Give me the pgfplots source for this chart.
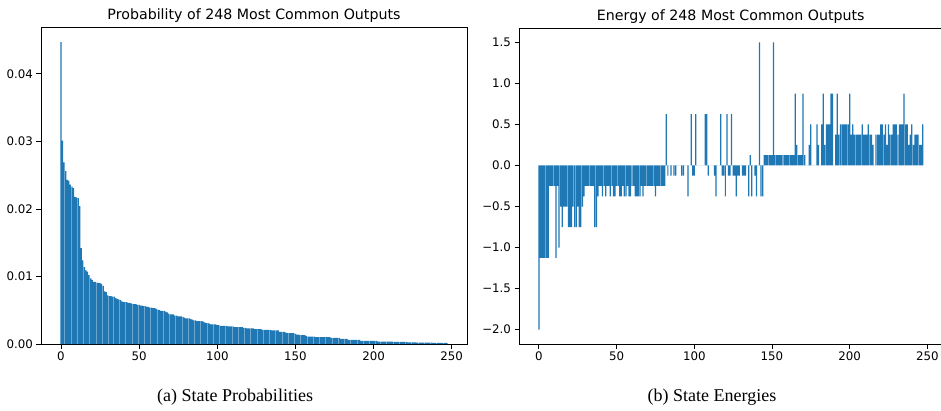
\documentclass[border=0pt]{standalone}
\usepackage{fontspec}
\setmainfont{DejaVu Sans}
\newfontfamily\capfont{Liberation Serif}
\usepackage{pgfplots}
\pgfplotsset{compat=1.18}
\definecolor{mplblue}{HTML}{1F77B4}

\pgfplotsset{
  mplbase/.style={
    scale only axis,
    axis line style={black, line width=0.8pt},
    tick align=outside, tick pos=left,
    major tick length=4.5pt,
    tick style={black, line width=0.8pt},
    xmin=-12.79, xmax=259.79,
    xtick={0,50,100,150,200,250},
    /pgf/number format/assume math mode=true,
    ticklabel style={font=\fontsize{11.8}{13}\selectfont},
    title style={font=\fontsize{14.2}{16}\selectfont, yshift=-5pt},
  },
  bars/.style={ybar, bar width=0.8, fill=mplblue, draw=none},
}

\begin{document}
\begin{tikzpicture}[x=1pt,y=1pt]
\useasboundingbox (0,0) rectangle (941,410);

% (a) probabilities
\begin{axis}[mplbase, at={(41pt,66pt)}, anchor=south west,
  width=426pt, height=317pt,
  ymin=0, ymax=0.04694,
  ytick={0,0.01,0.02,0.03,0.04}, scaled y ticks=false,
  yticklabel style={/pgf/number format/fixed, /pgf/number format/fixed zerofill, /pgf/number format/precision=2},
  title={Probability of 248 Most Common Outputs}]
\addplot[bars] coordinates {
(0,0.0447) (1,0.0301) (2,0.0269) (3,0.0256) (4,0.0243) (5,0.0242) (6,0.0236) (7,0.0233) (8,0.0231) (9,0.0218)
(10,0.0217) (11,0.0216) (12,0.0204) (13,0.0142) (14,0.0124) (15,0.0114) (16,0.0109) (17,0.0107) (18,0.0102) (19,0.0097)
(20,0.0095) (21,0.0092) (22,0.0092) (23,0.0091) (24,0.0090) (25,0.0090) (26,0.0089) (27,0.0086) (28,0.0078) (29,0.0077)
(30,0.0072) (31,0.0071) (32,0.0071) (33,0.0070) (34,0.0070) (35,0.0068) (36,0.0067) (37,0.0066) (38,0.0065) (39,0.0063)
(40,0.0062) (41,0.0062) (42,0.0062) (43,0.0061) (44,0.0061) (45,0.0060) (46,0.0059) (47,0.0059) (48,0.0059) (49,0.0058)
(50,0.0058) (51,0.0057) (52,0.0057) (53,0.0056) (54,0.0056) (55,0.0055) (56,0.0055) (57,0.0054) (58,0.0054) (59,0.0053)
(60,0.0053) (61,0.0052) (62,0.0051) (63,0.0050) (64,0.0049) (65,0.0049) (66,0.0049) (67,0.0048) (68,0.0047) (69,0.0045)
(70,0.0044) (71,0.0044) (72,0.0044) (73,0.0042) (74,0.0042) (75,0.0041) (76,0.0041) (77,0.0041) (78,0.0040) (79,0.0039)
(80,0.0038) (81,0.0038) (82,0.0038) (83,0.0037) (84,0.0036) (85,0.0035) (86,0.0035) (87,0.0034) (88,0.0034) (89,0.0034)
(90,0.0034) (91,0.0033) (92,0.0032) (93,0.0031) (94,0.0031) (95,0.0030) (96,0.0029) (97,0.0029) (98,0.0029) (99,0.0029)
(100,0.0028) (101,0.0028) (102,0.0027) (103,0.0027) (104,0.0027) (105,0.0027) (106,0.0027) (107,0.0026) (108,0.0026) (109,0.0026)
(110,0.0026) (111,0.0025) (112,0.0025) (113,0.0025) (114,0.0025) (115,0.0025) (116,0.0025) (117,0.0024) (118,0.0024) (119,0.0023)
(120,0.0023) (121,0.0023) (122,0.0023) (123,0.0023) (124,0.0022) (125,0.0022) (126,0.0022) (127,0.0022) (128,0.0022) (129,0.0021)
(130,0.0021) (131,0.0021) (132,0.0021) (133,0.0021) (134,0.0021) (135,0.0020) (136,0.0020) (137,0.0020) (138,0.0020) (139,0.0020)
(140,0.0018) (141,0.0018) (142,0.0018) (143,0.0018) (144,0.0017) (145,0.0016) (146,0.0016) (147,0.0016) (148,0.0016) (149,0.0016)
(150,0.0015) (151,0.0014) (152,0.0014) (153,0.0013) (154,0.0013) (155,0.0013) (156,0.0013) (157,0.0012) (158,0.0011) (159,0.0011)
(160,0.0011) (161,0.0011) (162,0.0011) (163,0.0010) (164,0.0010) (165,0.0010) (166,0.0010) (167,0.0010) (168,0.0010) (169,0.0010)
(170,0.0010) (171,0.0010) (172,0.0010) (173,0.0009) (174,0.0009) (175,0.0009) (176,0.0009) (177,0.0009) (178,0.0009) (179,0.00075)
(180,0.00075) (181,0.00075) (182,0.00075) (183,0.00075) (184,0.0006) (185,0.0006) (186,0.0006) (187,0.0006) (188,0.0006) (189,0.0006)
(190,0.0006) (191,0.0006) (192,0.00045) (193,0.00045) (194,0.00045) (195,0.00045) (196,0.00045) (197,0.00045) (198,0.00045) (199,0.00045)
(200,0.00045) (201,0.00045) (202,0.00045) (203,0.00035) (204,0.00035) (205,0.00035) (206,0.00035) (207,0.00035) (208,0.00035) (209,0.00035)
(210,0.00035) (211,0.00035) (212,0.00035) (213,0.0003) (214,0.0003) (215,0.0003) (216,0.0003) (217,0.0003) (218,0.0003) (219,0.0003)
(220,0.0003) (221,0.0003) (222,0.00025) (223,0.00025) (224,0.00025) (225,0.00025) (226,0.00025) (227,0.00025) (228,0.0002) (229,0.0002)
(230,0.0002) (231,0.0002) (232,0.0002) (233,0.0002) (234,0.0002) (235,0.0002) (236,0.0002) (237,0.0002) (238,0.00015) (239,0.00015)
(240,0.00015) (241,0.00015) (242,0.00015) (243,0.00015) (244,0.00015) (245,0.00015) (246,0.00015) (247,0.00015)
};
\end{axis}

% (b) energies
\begin{axis}[mplbase, at={(519pt,66pt)}, anchor=south west,
  width=423.6pt, height=316pt,
  ymin=-2.175, ymax=1.675,
  ytick={-2,-1.5,-1,-0.5,0,0.5,1,1.5},
  yticklabels={−2.0,−1.5,−1.0,−0.5,0.0,0.5,1.0,1.5},
  title={Energy of 248 Most Common Outputs}]
\addplot[bars] coordinates {
(0,-2) (1,-1.125) (2,-1.125) (3,-1.125) (4,-1.125) (5,-1.125) (6,-1.125) (7,-0.25) (8,-0.25) (9,-0.25)
(10,-0.25) (11,-1.125) (12,-0.25) (13,-1.0) (14,-0.5) (15,-0.75) (16,-0.5) (17,-0.5) (18,-0.5) (19,-0.75)
(20,-0.75) (21,-0.75) (22,-0.5) (23,-0.75) (24,-0.75) (25,-0.5) (26,-0.75) (27,-0.75) (28,-0.5) (29,-0.375)
(30,-0.25) (31,-0.25) (32,-0.25) (33,-0.25) (34,-0.25) (35,-0.25) (36,-0.75) (37,-0.75) (38,-0.375) (39,-0.25)
(40,-0.25) (41,-0.375) (42,-0.25) (43,-0.375) (44,-0.25) (45,-0.25) (46,-0.375) (47,-0.25) (48,-0.375) (49,-0.375)
(50,-0.25) (51,-0.25) (52,-0.375) (53,-0.375) (54,-0.25) (55,-0.375) (56,-0.375) (57,-0.25) (58,-0.375) (59,-0.375)
(60,-0.25) (61,-0.25) (62,-0.375) (63,-0.375) (64,-0.375) (65,-0.375) (66,-0.25) (67,-0.375) (68,-0.25) (69,-0.25)
(70,-0.25) (71,-0.25) (72,-0.25) (73,-0.25) (74,-0.25) (75,-0.375) (76,-0.25) (77,-0.25) (78,-0.25) (79,-0.25)
(80,-0.25) (81,-0.25) (82,0.625) (83,-0.125) (84,0) (85,-0.125) (86,0) (87,-0.125) (88,-0.125) (89,0)
(90,0) (91,0) (92,-0.125) (93,-0.125) (94,0) (95,0) (96,-0.375) (97,0) (98,0.625) (99,-0.125)
(100,-0.125) (101,0.625) (102,0) (103,0) (104,0) (105,0) (106,0) (107,0.625) (108,0.625) (109,-0.125)
(110,0) (111,0) (112,0) (113,-0.125) (114,-0.375) (115,0) (116,0) (117,0.625) (118,-0.125) (119,-0.125)
(120,-0.375) (121,0.625) (122,-0.125) (123,-0.125) (124,0.625) (125,-0.125) (126,-0.125) (127,-0.375) (128,-0.125) (129,-0.125)
(130,0) (131,-0.125) (132,-0.125) (133,-0.125) (134,0) (135,-0.375) (136,0.125) (137,-0.375) (138,0) (139,-0.125)
(140,-0.375) (141,0) (142,1.5) (143,-0.375) (144,-0.375) (145,0.125) (146,0.125) (147,0.125) (148,0.125) (149,0.125)
(150,0.125) (151,1.5) (152,0.125) (153,0.125) (154,0.125) (155,0.125) (156,0.125) (157,0.125) (158,0.125) (159,0.125)
(160,0.125) (161,0.125) (162,0.125) (163,0.125) (164,0.125) (165,0.875) (166,0.25) (167,0.125) (168,0.125) (169,0.125)
(170,0.875) (171,0.125) (172,0) (173,0) (174,0.25) (175,0.5) (176,0) (177,0) (178,0) (179,0.5)
(180,0.25) (181,0) (182,0.5) (183,0.875) (184,0.25) (185,0.5) (186,0.5) (187,0.5) (188,0.875) (189,0.875)
(190,0) (191,0.375) (192,0.875) (193,0.375) (194,0.5) (195,0.5) (196,0.5) (197,0.5) (198,0.5) (199,0.5)
(200,0.875) (201,0.375) (202,0.5) (203,0.375) (204,0.375) (205,0.375) (206,0.375) (207,0.375) (208,0.5) (209,0.375)
(210,0.375) (211,0.375) (212,0.5) (213,0.375) (214,0.375) (215,0.25) (216,0) (217,0.375) (218,0.375) (219,0.375)
(220,0.5) (221,0.5) (222,0.375) (223,0.5) (224,0.25) (225,0.5) (226,0.375) (227,0.375) (228,0.5) (229,0.5)
(230,0.5) (231,0.375) (232,0.5) (233,0.5) (234,0.5) (235,0.875) (236,0.5) (237,0.5) (238,0.25) (239,0.375)
(240,0.5) (241,0.25) (242,0.375) (243,0.375) (244,0.375) (245,0.25) (246,0.25) (247,0.5)
};
\end{axis}

\node[font=\capfont\fontsize{18}{20}\selectfont] at (235,13) {(a) State Probabilities};
\node[font=\capfont\fontsize{18}{20}\selectfont] at (712,13) {(b) State Energies};
\end{tikzpicture}
\end{document}
